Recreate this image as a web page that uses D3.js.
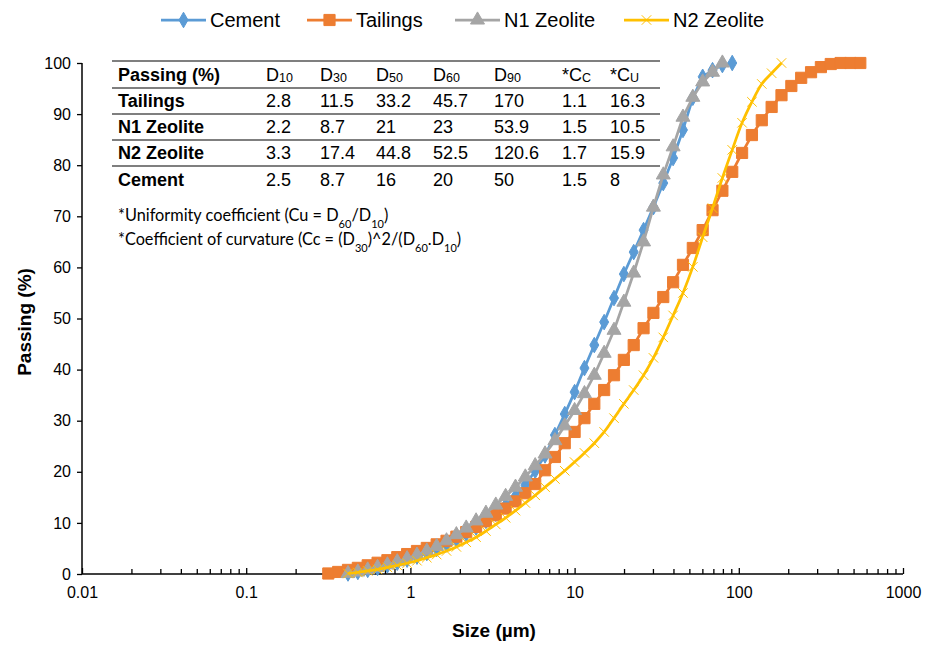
<!DOCTYPE html>
<html>
<head>
<meta charset="utf-8">
<script src="https://cdn.jsdelivr.net/npm/d3@7"></script>
<style>
  body { margin: 0; background: #fff; }
  svg { font-family: "Liberation Sans", Arial, sans-serif; }
</style>
</head>
<body>
<div id="chart"></div>
<script>
// laser diffraction size bins (um)
const sizeBins = [0.3162, 0.3631, 0.4169, 0.4786, 0.5495, 0.6310, 0.7244, 0.8318, 0.9550, 1.0965,
  1.2589, 1.4454, 1.6596, 1.9055, 2.1878, 2.5119, 2.8840, 3.3113, 3.8019, 4.3652,
  5.0119, 5.7544, 6.6069, 7.5858, 8.7096, 10.000, 11.482, 13.183, 15.136, 17.378,
  19.953, 22.909, 26.303, 30.200, 34.674, 39.811, 45.709, 52.481, 60.256, 69.183,
  79.433, 91.201, 104.71, 120.23, 138.04, 158.49, 181.97, 208.93, 239.88, 275.42,
  316.23, 363.08, 416.87, 478.63, 549.54];

// passing (%) per series, first value sits on sizeBins[start]
const tailingsStart = 0;
const tailingsPass = [0.1, 0.4, 0.8, 1.2, 1.7, 2.2, 2.7, 3.3, 3.9, 4.5,
  5.1, 5.8, 6.5, 7.3, 8.2, 9.2, 10.3, 11.5, 12.8, 14.2,
  15.8, 17.6, 20.3, 22.9, 25.6, 27.8, 30.5, 33.3, 36.0, 38.9,
  41.9, 44.8, 48.1, 51.1, 54.2, 57.1, 60.5, 63.8, 67.3, 71.2,
  75.0, 78.7, 82.4, 85.9, 88.8, 91.4, 93.7, 95.5, 97.1, 98.2,
  99.2, 99.8, 100, 100, 100];

const cementStart = 2;
const cementPass = [0.1, 0.4, 0.8, 1.2, 1.7, 2.2, 2.8, 3.4, 4.1, 4.9,
  5.8, 6.8, 7.9, 9.1, 10.4, 11.8, 13.4, 15.2, 17.4, 20.2,
  23.2, 27.2, 31.3, 35.6, 40.3, 44.8, 49.3, 54.0, 58.7, 63.0,
  67.3, 71.8, 76.5, 81.4, 86.9, 93.2, 97.3, 98.6, 99.6, 100];

const n1Start = 2;
const n1Pass = [0.1, 0.4, 0.8, 1.3, 1.8, 2.4, 3.0, 3.7, 4.5, 5.4,
  6.5, 7.7, 9.0, 10.4, 11.9, 13.5, 15.2, 17.0, 19.0, 21.2,
  23.5, 26.1, 29.0, 32.0, 35.3, 38.9, 43.2, 47.7, 53.2, 58.9,
  65.0, 71.8, 78.1, 83.6, 89.4, 93.3, 96.3, 98.2, 100];

const n2Start = 2;
const n2Pass = [0.1, 0.3, 0.6, 0.9, 1.3, 1.7, 2.1, 2.6, 3.2, 3.8,
  4.5, 5.3, 6.2, 7.2, 8.4, 9.7, 11.0, 12.4, 13.9, 15.4,
  17.0, 18.6, 20.2, 21.9, 23.7, 25.6, 27.8, 30.5, 33.3, 36.0,
  38.9, 42.3, 46.3, 50.6, 55.0, 60.1, 65.9, 71.6, 77.5, 83.0,
  88.3, 92.4, 95.9, 98.0, 100];

const seriesNames = ["Cement", "Tailings", "N1 Zeolite", "N2 Zeolite"];
const seriesColors = ["#5B9BD5", "#ED7D31", "#A5A5A5", "#FFC000"];

// table in the top-left corner
const tableHead = ["D|10", "D|30", "D|50", "D|60", "D|90", "*C|C", "*C|U"];
const tableRows = ["Tailings", "N1 Zeolite", "N2 Zeolite", "Cement"];
const tableValues = [
  ["2.8", "11.5", "33.2", "45.7", "170", "1.1", "16.3"],
  ["2.2", "8.7", "21", "23", "53.9", "1.5", "10.5"],
  ["3.3", "17.4", "44.8", "52.5", "120.6", "1.7", "15.9"],
  ["2.5", "8.7", "16", "20", "50", "1.5", "8"]
];

const xTicks = [0.01, 0.1, 1, 10, 100, 1000];
const yTicks = [0, 10, 20, 30, 40, 50, 60, 70, 80, 90, 100];

function toPoints(pass, start) {
  return pass.map((p, i) => ({ size: sizeBins[start + i], pass: p }));
}
const series = [
  toPoints(cementPass, cementStart),
  toPoints(tailingsPass, tailingsStart),
  toPoints(n1Pass, n1Start),
  toPoints(n2Pass, n2Start)
];

const W = 933, H = 645;
const svg = d3.select("#chart").append("svg")
  .attr("width", W)
  .attr("height", H);

const x = d3.scaleLog().domain([0.01, 1000]).range([82, 903]);
const y = d3.scaleLinear().domain([0, 100]).range([574, 63]);

// minor ticks for the log axis
const minor = [];
for (let e = -2; e < 3; e++) {
  for (let k = 2; k < 10; k++) minor.push(k * Math.pow(10, e));
}

svg.append("g")
  .attr("transform", `translate(0,${y(0)})`)
  .call(d3.axisBottom(x).tickValues(minor).tickSize(-5).tickFormat(""))
  .call(g => g.select(".domain").remove())
  .call(g => g.selectAll("line").attr("stroke", "#000").attr("stroke-width", 1.3));

svg.append("g")
  .attr("transform", `translate(0,${y(0)})`)
  .call(d3.axisBottom(x).tickValues(xTicks).tickSize(-6).tickPadding(13)
    .tickFormat(d => d3.format("~g")(d)))
  .call(g => g.select(".domain").attr("stroke", "#000").attr("stroke-width", 1.5).attr("d", `M${x(0.01)},0H${x(1000)}`))
  .call(g => g.selectAll("line").attr("stroke", "#000").attr("stroke-width", 1.3))
  .call(g => g.selectAll("text").attr("fill", "#000").style("font-size", "16px")
    .attr("font-family", "Liberation Sans, Arial, sans-serif"));

// y axis
svg.append("g")
  .attr("transform", `translate(${x(0.01)},0)`)
  .call(d3.axisLeft(y).tickValues(yTicks).tickSize(5).tickPadding(6))
  .call(g => g.select(".domain").attr("stroke", "#000").attr("stroke-width", 1.5).attr("d", `M0,${y(0)}V${y(100)}`))
  .call(g => g.selectAll("line").attr("stroke", "#000").attr("stroke-width", 1.3))
  .call(g => g.selectAll("text").attr("fill", "#000").style("font-size", "16px")
    .attr("font-family", "Liberation Sans, Arial, sans-serif"));

// axis titles
svg.append("text")
  .attr("transform", "rotate(-90)")
  .attr("x", -322)
  .attr("y", 31)
  .style("text-anchor", "middle")
  .style("font-size", "19px")
  .style("font-weight", "bold")
  .text("Passing (%)");

svg.append("text")
  .attr("x", 494)
  .attr("y", 637)
  .style("text-anchor", "middle")
  .style("font-size", "19px")
  .style("font-weight", "bold")
  .text("Size (µm)");

// markers
const sym = [d3.symbolDiamond, d3.symbolSquare, d3.symbolTriangle, d3.symbolX];
const symSize = [70, 125, 85, 60];

function drawMarker(g, i, cx, cy) {
  const p = g.append("path")
    .attr("transform", `translate(${cx},${cy})`)
    .attr("d", d3.symbol().type(sym[i]).size(symSize[i])());
  if (i === 3) {
    p.attr("fill", "none").attr("stroke", seriesColors[i]).attr("stroke-width", 1);
  } else {
    p.attr("fill", seriesColors[i]).attr("stroke", seriesColors[i]).attr("stroke-width", 1);
  }
}

series.forEach((data, i) => {
  const line = d3.line()
    .x(d => x(d.size))
    .y(d => y(d.pass))
    .curve(i === 3 ? d3.curveCatmullRom : d3.curveLinear);
  svg.append("path")
    .datum(data)
    .attr("fill", "none")
    .attr("stroke", seriesColors[i])
    .attr("stroke-width", 2.75)
    .attr("stroke-linejoin", "round")
    .attr("d", line);
  const g = svg.append("g");
  data.forEach(d => drawMarker(g, i, x(d.size), y(d.pass)));
});

// legend
const legendX = [161, 307, 455, 624];
seriesNames.forEach((name, i) => {
  const lx = legendX[i];
  svg.append("line")
    .attr("x1", lx).attr("x2", lx + 45)
    .attr("y1", 20).attr("y2", 20)
    .attr("stroke", seriesColors[i])
    .attr("stroke-width", 2.75);
  drawMarker(svg, i, lx + 22.5, 20);
  svg.append("text")
    .attr("x", lx + 49)
    .attr("y", 27)
    .style("font-size", "20px")
    .text(name);
});

// table
const colX = [118, 266, 320, 376, 433, 494, 562, 610];
const rowY = [81, 107, 133, 159, 186];
const ruleY = [61, 88, 114, 140, 166];
ruleY.forEach(ry => {
  svg.append("line")
    .attr("x1", 112).attr("x2", 660)
    .attr("y1", ry).attr("y2", ry)
    .attr("stroke", "#000")
    .attr("stroke-width", 1.2);
});

svg.append("text")
  .attr("x", colX[0]).attr("y", rowY[0])
  .style("font-size", "18px").style("font-weight", "bold")
  .text("Passing (%)");

tableHead.forEach((h, j) => {
  const parts = h.split("|");
  const t = svg.append("text")
    .attr("x", colX[j + 1]).attr("y", rowY[0])
    .style("font-size", "18px");
  t.append("tspan").text(parts[0]);
  t.append("tspan").style("font-size", "12.5px").attr("dy", 1).text(parts[1]);
});

tableRows.forEach((r, i) => {
  svg.append("text")
    .attr("x", colX[0]).attr("y", rowY[i + 1])
    .style("font-size", "18px").style("font-weight", "bold")
    .text(r);
  tableValues[i].forEach((v, j) => {
    svg.append("text")
      .attr("x", colX[j + 1]).attr("y", rowY[i + 1])
      .style("font-size", "18px")
      .text(v);
  });
});

// footnotes
const note1 = svg.append("text")
  .attr("x", 118).attr("y", 221)
  .style("font-family", "Lato, 'Open Sans', sans-serif")
  .style("font-size", "16.3px");
note1.append("tspan").text("*Uniformity coefficient (Cu = D");
note1.append("tspan").attr("baseline-shift", "sub").style("font-size", "11px").text("60");
note1.append("tspan").text("/D");
note1.append("tspan").attr("baseline-shift", "sub").style("font-size", "11px").text("10");
note1.append("tspan").text(")");

const note2 = svg.append("text")
  .attr("x", 118).attr("y", 245)
  .style("font-family", "Lato, 'Open Sans', sans-serif")
  .style("font-size", "16.3px");
note2.append("tspan").text("*Coefficient of curvature (Cc = (D");
note2.append("tspan").attr("baseline-shift", "sub").style("font-size", "11px").text("30");
note2.append("tspan").text(")^2/(D");
note2.append("tspan").attr("baseline-shift", "sub").style("font-size", "11px").text("60");
note2.append("tspan").text(".D");
note2.append("tspan").attr("baseline-shift", "sub").style("font-size", "11px").text("10");
note2.append("tspan").text(")");
</script>
</body>
</html>
